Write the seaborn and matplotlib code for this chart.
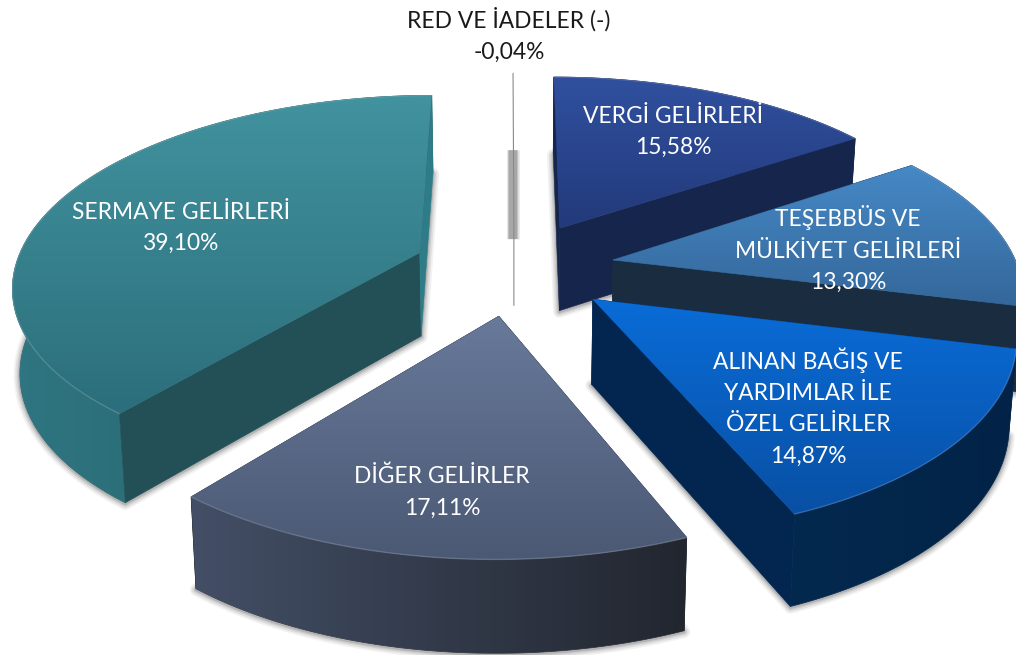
import numpy as np
import matplotlib
matplotlib.use("Agg")
import matplotlib.pyplot as plt
from matplotlib.patches import Polygon
import seaborn as sns

# Data
names = ["VERGİ GELİRLERİ", "TEŞEBBÜS VE\nMÜLKİYET GELİRLERİ",
         "ALINAN BAĞIŞ VE\nYARDIMLAR İLE\nÖZEL GELİRLER", "DİĞER GELİRLER",
         "SERMAYE GELİRLERİ", "RED VE İADELER (-)"]
values = [15.58, 13.30, 14.87, 17.11, 39.10, -0.04]

# Colours: top face (top, bottom), radial walls, arc wall (left, right)
top_colors = [("#30509f", "#233a7a"), ("#4689c6", "#34679a"), ("#0a6cd8", "#0850a4"),
              ("#68799a", "#4b5974"), ("#41939f", "#2c6e7b"), ("#777777", "#777777")]
side_colors = ["#16254b", "#1a2d40", "#02264f", "#262b38", "#234f57", "#555555"]
end_side_colors = ["#16254b", "#1a2d40", "#02264f", "#262b38", "#2e7c87", "#555555"]
arc_colors = [("#16254b", "#16254b"), ("#1a2d40", "#1a2d40"), ("#04294f", "#022347"),
              ("#434f66", "#22262f"), ("#2f7682", "#225c62"), ("#555555", "#555555")]

# Label centres in pixels
label_xy = [(673, 132), (848, 249), (808, 407), (442, 492), (181, 228), (509, 35)]

# Projection of the tilted disk
CX, CY = 514, 268
RX, RY = 405, 187
PERSP = 0.16
DEPTH = 84
BOTTOM_SCALE = 0.985
EXPLODE = 0.25

sns.set_theme(style="white")
plt.rcParams["font.family"] = ["Lato", "DejaVu Sans"]


def project(x, y):
    s = 1 / (1 - PERSP * y)
    return CX + RX * x * s, CY + RY * y * s, s


def slice_outline(start, end):
    mid = (start + end) / 2
    ox, oy = EXPLODE * np.sin(mid), -EXPLODE * np.cos(mid)
    th = np.linspace(start, end, 80)
    arc = project(ox + np.sin(th), oy - np.cos(th))
    apex = project(np.array([ox]), np.array([oy]))
    return arc, apex


def lower(p):
    return CX + (p[0] - CX) * BOTTOM_SCALE, p[1] + DEPTH * np.sqrt(p[2])


def gradient_fill(ax, pts, colors, vertical=True, zorder=2):
    cmap = sns.blend_palette(colors, n_colors=128, as_cmap=True)
    x0, x1 = pts[:, 0].min(), pts[:, 0].max()
    y0, y1 = pts[:, 1].min(), pts[:, 1].max()
    grad = np.linspace(0, 1, 256)
    grad = grad.reshape(-1, 1) if vertical else grad.reshape(1, -1)
    patch = Polygon(pts, closed=True, fc="none", ec=colors[len(colors) // 2], lw=0.5, zorder=zorder)
    ax.add_patch(patch)
    im = ax.imshow(grad, cmap=cmap, extent=(x0, x1, y1, y0), aspect="auto", zorder=zorder,
                   interpolation="bilinear")
    im.set_clip_path(patch)


fig = plt.figure(figsize=(10.16, 6.55), dpi=100)
ax = fig.add_axes([0, 0, 1, 1])
ax.set_axis_off()

# Angles of each slice from the absolute shares
shares = np.abs(values) / np.abs(values).sum() * 2 * np.pi
ends = np.cumsum(shares)
starts = ends - shares

slices = []
for i in range(len(values)):
    arc, apex = slice_outline(starts[i], ends[i])
    slices.append((float(apex[1][0]), i, arc, apex))
slices.sort(key=lambda t: t[0])

# Soft shadows of the bottom faces
for _, i, arc, apex in slices:
    bx, by = lower(arc)
    ax_, ay_ = lower(apex)
    if shares[i] < 0.01:
        # the sliver has a short blurred band only
        ys = [by[0], by[0] + 0.57 * (ay_[0] - by[0])]
        for w, a in zip([9, 7.5, 6], [0.1, 0.13, 0.16]):
            ax.plot([bx[0], bx[0]], ys, color="black", alpha=a, lw=w, zorder=1, solid_capstyle="butt")
        continue
    pts = np.column_stack([np.r_[ax_, bx], np.r_[ay_, by]])
    for w, a in zip([9, 6.5, 4, 2], [0.05, 0.07, 0.09, 0.12]):
        ax.add_patch(Polygon(pts + [0, 1], closed=True, fc="none", ec="black", alpha=a, lw=w,
                             joinstyle="round", zorder=1))

# Solid slices, back to front
for n, (_, i, arc, apex) in enumerate(slices):
    z = 3 + n
    tx, ty, _s = arc
    ux, uy = lower(arc)
    ax_, ay_ = apex[0], apex[1]
    lx, ly = lower(apex)
    if shares[i] < 0.01:
        ax.plot([tx[0], ax_[0], lx[0]], [ty[0], ay_[0], ly[0]], color="#8a8a8a", lw=0.8, zorder=z)
        continue

    wall = np.column_stack([np.r_[tx, ux[::-1]], np.r_[ty, uy[::-1]]])
    mid = (starts[i] + ends[i]) / 2
    back_facing = np.cos(mid) > 0

    # slices at the back show their radial walls over the outer wall
    if back_facing:
        gradient_fill(ax, wall, arc_colors[i], vertical=False, zorder=z)
    for k, col in ((0, side_colors[i]), (-1, end_side_colors[i])):
        quad = np.array([[ax_[0], ay_[0]], [tx[k], ty[k]], [ux[k], uy[k]], [lx[0], ly[0]]])
        ax.add_patch(Polygon(quad, closed=True, fc=col, ec=col, lw=0.4, zorder=z))
    if not back_facing:
        gradient_fill(ax, wall, arc_colors[i], vertical=False, zorder=z)

    top = np.column_stack([np.r_[ax_, tx], np.r_[ay_, ty]])
    gradient_fill(ax, top, top_colors[i], zorder=z)
    ax.plot(tx, ty, color="white", alpha=0.16, lw=1.0, zorder=z)

# Labels
for i, name in enumerate(names):
    pct = f"{values[i]:.2f}".replace(".", ",") + "%"
    col = "#1a1a1a" if values[i] < 0 else "white"
    ax.text(label_xy[i][0], label_xy[i][1], f"{name}\n{pct}", ha="center", va="center",
            color=col, fontsize=16.4, linespacing=1.6, zorder=20)

ax.set_xlim(0, 1016)
ax.set_ylim(655, 0)
fig.savefig("out.png", dpi=100, facecolor="white")
